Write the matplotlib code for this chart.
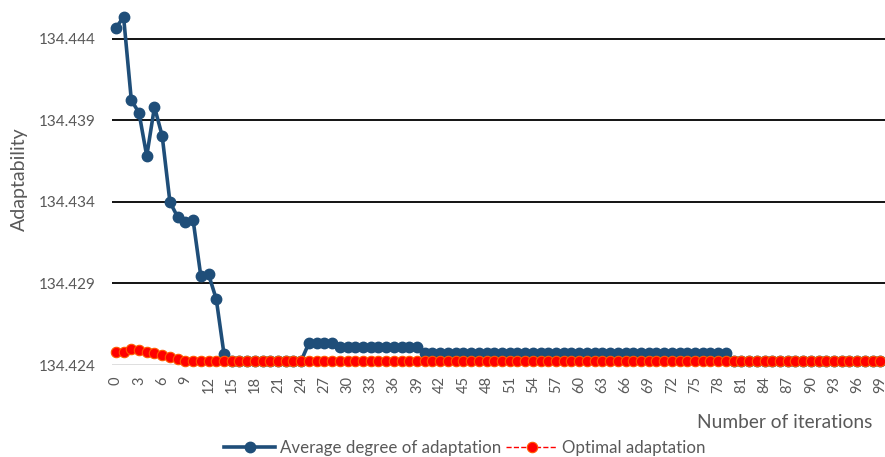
import numpy as np
import matplotlib
matplotlib.use('Agg')
import matplotlib.pyplot as plt

plt.rcParams['font.family'] = ['Lato', 'DejaVu Sans']

iterations = list(range(100))

# Average degree of adaptation
avg_head = [134.44467, 134.44535, 134.44026, 134.43946, 134.43682, 134.43983,
            134.43805, 134.43400, 134.43308, 134.43280, 134.43290, 134.42946,
            134.42956, 134.42805, 134.42468]
avg_flat1 = [134.42426] * 10          # iterations 15-24
avg_step1 = [134.42535] * 4           # 25-28
avg_step2 = [134.42512] * 11          # 29-39
avg_step3 = [134.42475] * 40          # 40-79
avg_tail = [134.42426] * 20           # 80-99
avg_adapt = avg_head + avg_flat1 + avg_step1 + avg_step2 + avg_step3 + avg_tail

# Optimal adaptation
opt_head = [134.42480, 134.42480, 134.42500, 134.42490, 134.42482, 134.42472,
            134.42462, 134.42450, 134.42437]
opt_tail = [134.42426] * 91
opt_adapt = opt_head + opt_tail

yticks = [134.424, 134.429, 134.434, 134.439, 134.444]
xticks = list(range(0, 100, 3))

txt = '#595959'
fig = plt.figure(figsize=(8.85, 4.57), dpi=100)
ax = fig.add_axes([112/885, 1-365/457, 773/885, 357/457])

ax.plot(iterations, avg_adapt, color='#1f4e79', lw=2.6, marker='o', ms=7.5,
        label='Average degree of adaptation', zorder=3, clip_on=False)
ax.plot(iterations, opt_adapt, color='#ff0000', lw=1, ls='--', marker='o', ms=7.5,
        mfc='#ff0000', mec='#ff5a00', mew=0.8,
        label='Optimal adaptation', zorder=4, clip_on=False)

ax.set_xlim(-0.5, 99.6)
ax.set_ylim(134.424, 134.4459)
ax.set_yticks(yticks)
ax.set_yticklabels(['%.3f' % v for v in yticks])
ax.set_xticks(xticks)
ax.set_xticklabels([str(v) for v in xticks], rotation=90)

for v in yticks[1:]:
    ax.axhline(v, color='black', lw=1.3, zorder=1)
ax.axhline(yticks[0], color='#d9d9d9', lw=1.2, zorder=1)

for s in ax.spines.values():
    s.set_visible(False)
ax.tick_params(axis='both', length=0, colors=txt)
ax.tick_params(axis='y', pad=12, labelsize=11)
ax.tick_params(axis='x', pad=8, labelsize=10.5)

ax.set_ylabel('Adaptability', color=txt, fontsize=14)
ax.yaxis.set_label_coords(-84/773, 0.52)
fig.text(872/885, 1-422/457, 'Number of iterations', color=txt, fontsize=13.8,
         ha='right', va='center')

leg = fig.legend(loc='center', bbox_to_anchor=(465/885, 1-448/457), ncol=2,
                 frameon=False, fontsize=12.2, handlelength=3, columnspacing=0.3,
                 handletextpad=0.3, borderpad=0)
for t in leg.get_texts():
    t.set_color(txt)

fig.savefig('out.png', dpi=100)
